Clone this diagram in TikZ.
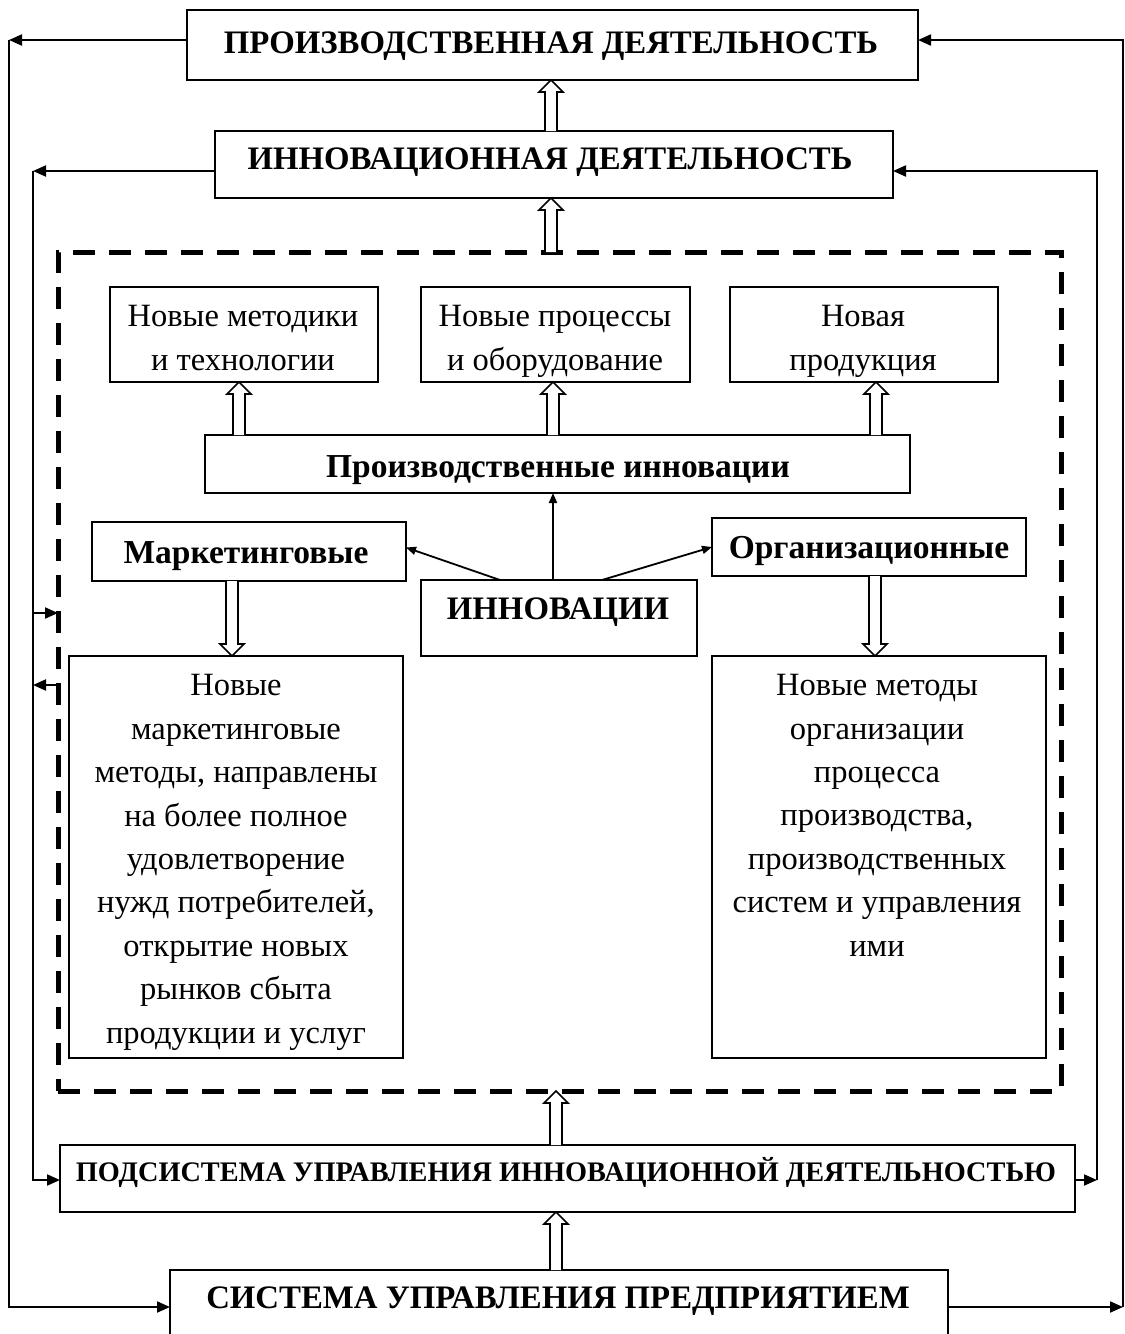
\documentclass[tikz,border=0pt]{standalone}
\usepackage{fontspec}
\setmainfont{Liberation Serif}
\usetikzlibrary{arrows.meta,calc}

% block box from its top-left and bottom-right corners
\newcommand\mkbox[5]{\node[box,minimum width={(#4)-(#2)},minimum height={(#5)-(#3)}] (#1) at (#2,#3) {};}
% hollow block arrow at abscissa #1 from point #2 to tip #3
\newcommand\hollowarrow[3]{%
  \draw[hollow] let \p0=(#1,0), \p1=(#2), \p2=(#3), \n1={ifthenelse(\y2>\y1,1,-1)} in
    (\x0-6pt,\y1) -- (\x0-6pt,\y2-\n1*12pt) -- (\x0-12pt,\y2-\n1*12pt) -- (\x0,\y2)
    -- (\x0+12pt,\y2-\n1*12pt) -- (\x0+6pt,\y2-\n1*12pt) -- (\x0+6pt,\y1);}

\begin{document}
\begin{tikzpicture}[x=1pt,y=-1pt,
  box/.style={draw,line width=2pt,rectangle,inner sep=0pt,outer sep=0pt,anchor=north west},
  dashbox/.style={draw,line width=5pt,dash pattern=on 22pt off 14pt,rectangle,inner sep=0pt,outer sep=0pt,anchor=north west},
  conn/.style={line width=2pt,-{Triangle[length=13pt,width=11pt]}},
  ray/.style={line width=1.8pt,-{Triangle[length=10pt,width=8pt]}},
  hollow/.style={line width=1.6pt,fill=white,line join=miter},
  capsb/.style={font=\fontsize{32.8}{38}\selectfont\bfseries,anchor=base,inner sep=0pt},
  bodyb/.style={font=\fontsize{33.5}{38}\selectfont\bfseries,anchor=base,inner sep=0pt},
  body/.style={font=\fontsize{32.5}{43.4}\selectfont,align=center,anchor=base,inner sep=0pt},
]
\useasboundingbox (0,0) rectangle (1125,1334);

% frames
\mkbox{prod}{187}{10}{918}{80}
\mkbox{innd}{215}{131}{893}{198}
\node[dashbox,minimum width=1003,minimum height=839] (dash) at (58,252) {};
\mkbox{nm}{110}{287}{378}{382}
\mkbox{np}{421}{287}{690}{382}
\mkbox{npr}{730}{287}{998}{382}
\mkbox{pinn}{205}{435}{910}{493}
\mkbox{mkt}{92}{522}{406}{581}
\mkbox{org}{712}{518}{1026}{576}
\mkbox{inn}{421}{580}{697}{656}
\mkbox{lbox}{69}{656}{403}{1058}
\mkbox{rbox}{712}{656}{1046}{1058}
\mkbox{sub}{60}{1145}{1075}{1212}
\mkbox{sys}{170}{1270}{948}{1350}

% texts (multi-line nodes are placed by the baseline of their last line)
\node[capsb] (tprod) at (551,53) {ПРОИЗВОДСТВЕННАЯ ДЕЯТЕЛЬНОСТЬ};
\node[capsb] (tinnd) at (550,169) {ИННОВАЦИОННАЯ ДЕЯТЕЛЬНОСТЬ};
\node[body] (tnm) at (243,370) {Новые методики\\и технологии};
\node[body] (tnp) at (555,370) {Новые процессы\\и оборудование};
\node[body] (tnpr) at (863,370) {Новая\\продукция};
\node[bodyb] (tpinn) at (558,477) {Производственные инновации};
\node[bodyb] (tmkt) at (246,563) {Маркетинговые};
\node[bodyb] (torg) at (869,558) {Организационные};
\node[capsb] (tinn) at (558,619) {ИННОВАЦИИ};
\node[body] (tl) at (236,1043) {Новые\\маркетинговые\\методы, направлены\\на более полное\\удовлетворение\\нужд потребителей,\\открытие новых\\рынков сбыта\\продукции и услуг};
\node[body] (tr) at (877,956) {Новые методы\\организации\\процесса\\производства,\\производственных\\систем и управления\\ими};
\node[capsb,font=\fontsize{28.3}{34}\selectfont\bfseries] (tsub) at (566,1181) {ПОДСИСТЕМА УПРАВЛЕНИЯ ИННОВАЦИОННОЙ ДЕЯТЕЛЬНОСТЬЮ};
\node[capsb] (tsys) at (558,1308) {СИСТЕМА УПРАВЛЕНИЯ ПРЕДПРИЯТИЕМ};

% hollow arrows
\hollowarrow{551}{innd.north}{prod.south}
\hollowarrow{551}{dash.north}{innd.south}
\hollowarrow{239}{pinn.north}{nm.south}
\hollowarrow{553}{pinn.north}{np.south}
\hollowarrow{876}{pinn.north}{npr.south}
\hollowarrow{232}{mkt.south}{lbox.north}
\hollowarrow{875}{org.south}{rbox.north}
\hollowarrow{556}{sub.north}{dash.south}
\hollowarrow{556}{sys.north}{sub.south}

% rays from the innovations box
\draw[ray] ([xshift=-59pt]inn.north) -- ([yshift=4pt]mkt.east);
\draw[ray] ([xshift=-6pt]inn.north) -- ([xshift=-6pt]inn.north |- pinn.south);
\draw[ray] ([xshift=43pt]inn.north) -- (org.west);

% feedback loops
\coordinate (oL1) at (9,40);   \coordinate (oL2) at (9,1307);
\coordinate (oR1) at (1123,40); \coordinate (oR2) at (1123,1307);
\coordinate (iL1) at (33,171);  \coordinate (iL2) at (33,1180);
\coordinate (iR1) at (1097,171); \coordinate (iR2) at (1097,1180);
\coordinate (iL3) at (33,613);  \coordinate (iL4) at (33,685);

\draw[conn] (oL1 -| prod.west) -- (oL1);
\draw[conn] (oL1) -- (oL2) -- (oL2 -| sys.west);
\draw[conn] (oR2 -| sys.east) -- (oR2);
\draw[conn] (oR2) -- (oR1) -- (oR1 -| prod.east);
\draw[conn] (iL1 -| innd.west) -- (iL1);
\draw[conn] (iL1) -- (iL2) -- (iL2 -| sub.west);
\draw[conn] (iR2 -| sub.east) -- (iR2);
\draw[conn] (iR2) -- (iR1) -- (iR1 -| innd.east);
\draw[conn] (iL3) -- (iL3 -| dash.west);
\draw[conn] (iL4 -| dash.west) -- (iL4);
\end{tikzpicture}
\end{document}
